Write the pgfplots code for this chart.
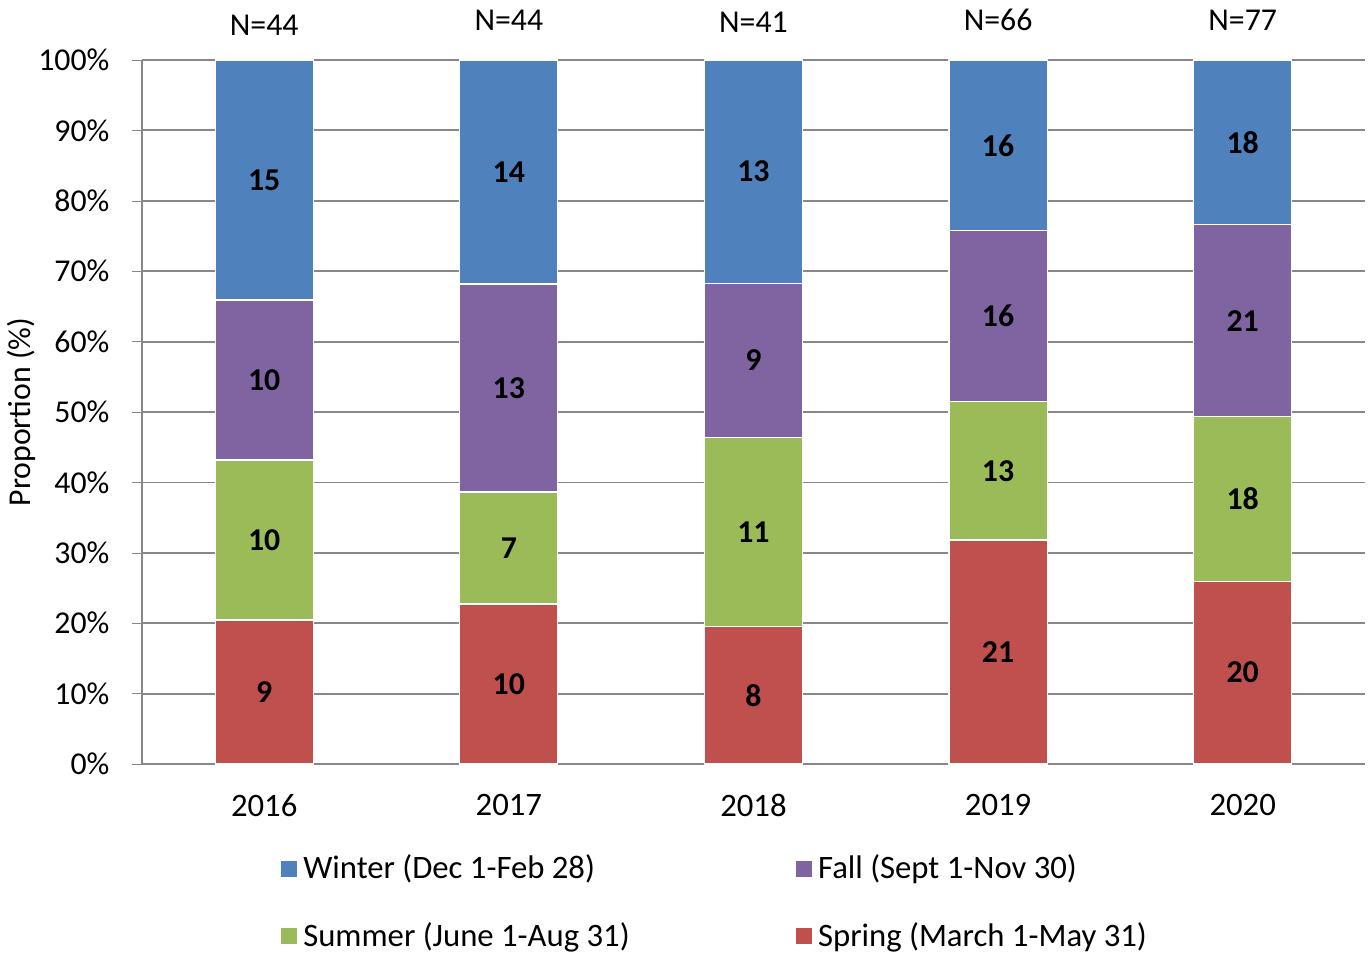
\documentclass[border=0pt]{standalone}
\usepackage{pgfplots}
\pgfplotsset{compat=1.18}
\usepackage{fontspec}
\setmainfont{Carlito}

\definecolor{winter}{HTML}{4F81BD}
\definecolor{fall}{HTML}{8064A2}
\definecolor{summer}{HTML}{9BBB59}
\definecolor{spring}{HTML}{C0504D}
\definecolor{gridgray}{HTML}{888888}

\begin{document}
\begin{tikzpicture}[font=\fontsize{10.6}{13}\selectfont]
\begin{axis}[
  scale only axis,
  width=407.7pt, height=234.7pt,
  ybar stacked, bar width=32.7pt,
  xmin=-0.5, xmax=4.5, ymin=0, ymax=100,
  xtick={0,1,2,3,4},
  xticklabels={2016,2017,2018,2019,2020},
  major x tick style={draw=none},
  extra x ticks={-0.5,0.5,1.5,2.5,3.5,4.5},
  extra x tick labels={},
  extra x tick style={grid=none, major tick length=3pt, tick style={draw=gridgray}},
  ytick={0,10,...,100},
  yticklabel={\pgfmathprintnumber{\tick}\%},
  /pgf/number format/assume math mode=true,
  major tick length=3.3pt,
  tick align=outside,
  ymajorgrids, grid style={draw=gridgray, line width=0.6pt},
  axis x line*=bottom, axis y line*=left,
  axis line style={draw=gridgray, line width=0.6pt},
  y tick style={draw=gridgray},
  xticklabel style={yshift=-3.3pt, font=\fontsize{10.9}{13}\selectfont},
  yticklabel style={xshift=-4pt},
  ylabel={Proportion (\%)},
  every axis y label/.style={at={(axis description cs:-0.0981,0.5)}, rotate=90, anchor=center, inner sep=0pt},
  clip=false,
  point meta=explicit symbolic,
  nodes near coords,
  nodes near coords style={font=\fontsize{10.6}{13}\selectfont\bfseries, text=black, anchor=center},
  reverse legend,
  legend columns=2,
  legend cell align=left,
  legend image code/.code={\fill[#1,draw=none] (0pt,-2.65pt) rectangle (5.3pt,2.65pt);},
  legend style={draw=none, fill=none, at={(0.1062,-0.1108)}, anchor=north west,
    font=\fontsize{10.9}{13}\selectfont,
    row sep=9pt, /tikz/every even column/.append style={column sep=53.5pt}},
]
\addplot[fill=spring, draw=white, line width=0.4pt] coordinates {(0,20.455)[9] (1,22.727)[10] (2,19.512)[8] (3,31.818)[21] (4,25.974)[20]};
\addlegendentry{Spring (March 1-May 31)}
\addplot[fill=summer, draw=white, line width=0.4pt] coordinates {(0,22.727)[10] (1,15.909)[7] (2,26.829)[11] (3,19.697)[13] (4,23.377)[18]};
\addlegendentry{Summer (June 1-Aug 31)}
\addplot[fill=fall, draw=white, line width=0.4pt] coordinates {(0,22.727)[10] (1,29.545)[13] (2,21.951)[9] (3,24.242)[16] (4,27.273)[21]};
\addlegendentry{Fall (Sept 1-Nov 30)}
\addplot[fill=winter, draw=white, line width=0.4pt] coordinates {(0,34.091)[15] (1,31.818)[14] (2,31.707)[13] (3,24.242)[16] (4,23.377)[18]};
\addlegendentry{Winter (Dec 1-Feb 28)}

\node at (axis cs:0,100) [yshift=11.7pt] {N=44};
\node at (axis cs:1,100) [yshift=13.3pt] {N=44};
\node at (axis cs:2,100) [yshift=12.5pt] {N=41};
\node at (axis cs:3,100) [yshift=13.3pt] {N=66};
\node at (axis cs:4,100) [yshift=13.3pt] {N=77};

\coordinate (bbsw) at ([xshift=-47.3pt,yshift=-63.3pt]rel axis cs:0,0);
\coordinate (bbne) at ([xshift=1pt,yshift=20pt]rel axis cs:1,1);
\end{axis}
\pgfresetboundingbox
\path (bbsw) rectangle (bbne);
\end{tikzpicture}
\end{document}
